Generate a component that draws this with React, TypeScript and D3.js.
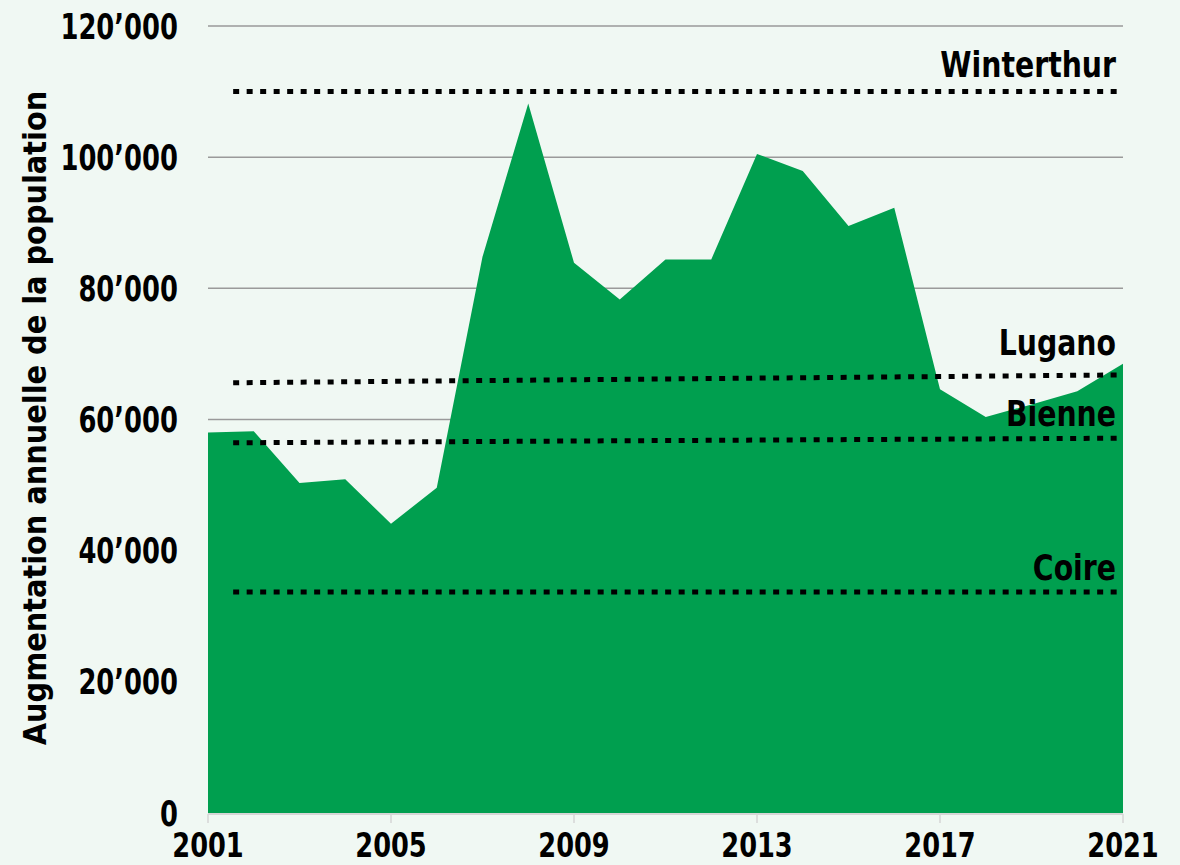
import React from 'react';
import * as d3 from 'd3';

const years = [2001, 2002, 2003, 2004, 2005, 2006, 2007, 2008, 2009, 2010, 2011, 2012, 2013, 2014, 2015, 2016, 2017, 2018, 2019, 2020, 2021];
const growth = [58000, 58200, 50300, 50900, 44100, 49600, 84800, 108200, 83900, 78300, 84400, 84400, 100500, 97900, 89500, 92300, 64600, 60400, 62300, 64300, 68500];

const cityNames = ['Winterthur', 'Lugano', 'Bienne', 'Coire'];
const cityStart = [110000, 65600, 56450, 33700];
const cityEnd = [110000, 66800, 57150, 33700];

const yTicks = [0, 20000, 40000, 60000, 80000, 100000, 120000];
const xTicks = [2001, 2005, 2009, 2013, 2017, 2021];

const W = 1180;
const H = 865;
const BG = '#f0f8f3';
const GREEN = '#009f4f';
const FONT = "'DejaVu Sans Condensed', 'DejaVu Sans', sans-serif";

// label offsets above each dotted line (px)
const labelDy = [-15, -20, -12, -12];

export default function App() {
  const x = d3.scaleLinear().domain([2001, 2021]).range([208, 1123]);
  const y = d3.scaleLinear().domain([0, 120000]).range([813, 26]);

  const area = d3.area<number>()
    .x((d, i) => x(years[i]))
    .y0(y(0))
    .y1(d => y(d));

  const fmt = (v: number) => d3.format(',')(v).replace(/,/g, '\u2019');

  // the reference lines start a little after the first year
  const lineStart = 2001.55;

  return (
    <svg width={W} height={H} style={{ position: 'absolute', left: 0, top: 0 }} fontFamily={FONT} fontWeight="bold">
      <rect width={W} height={H} fill={BG} />
      {yTicks.filter(t => t > 0).map(t => (
        <line key={t} x1={x(2001)} x2={x(2021)} y1={y(t)} y2={y(t)} stroke="#9a9a9a" strokeWidth={1.5} />
      ))}
      <path d={area(growth) || ''} fill={GREEN} />
      <line x1={x(2001)} x2={x(2021)} y1={y(0) + 1} y2={y(0) + 1} stroke="#d6d6d6" strokeWidth={2} />
      {xTicks.map(t => (
        <g key={t}>
          <line x1={x(t)} x2={x(t)} y1={y(0) + 1} y2={y(0) + 10} stroke="#d6d6d6" strokeWidth={1.5} />
          <text transform={`translate(${x(t)},857) scale(0.84,1)`} textAnchor="middle" fontSize={34}>{t}</text>
        </g>
      ))}
      {yTicks.map(t => (
        <text key={t} transform={`translate(178,${y(t)}) scale(0.82,1)`} dy="0.36em" textAnchor="end" fontSize={35}>{fmt(t)}</text>
      ))}
      {cityNames.map((c, i) => (
        <g key={c}>
          <line x1={x(lineStart)} x2={x(2021)} y1={y(cityStart[i])} y2={y(cityEnd[i])}
            stroke="#000" strokeWidth={5} strokeDasharray="6 7.5" />
          <text transform={`translate(1116,${y(cityEnd[i]) + labelDy[i]}) scale(0.9,1)`} textAnchor="end" fontSize={35}>{c}</text>
        </g>
      ))}
      <text transform={`translate(46,${418}) rotate(-90)`} textAnchor="middle" fontSize={32}>
        Augmentation annuelle de la population
      </text>
    </svg>
  );
}
